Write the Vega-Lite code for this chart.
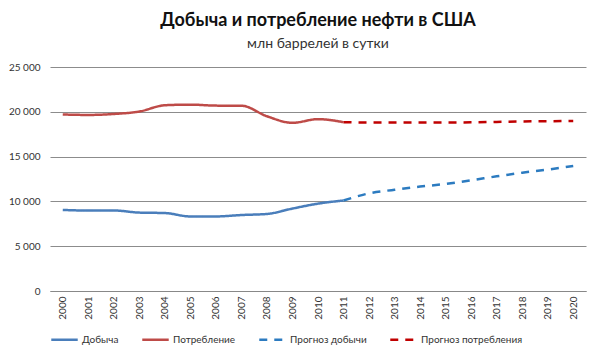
{
  "$schema": "https://vega.github.io/schema/vega-lite/v6.json",
  "width": 600,
  "height": 361,
  "autosize": {"type": "fit", "contains": "padding"},
  "padding": {"left": 8, "right": 14, "top": 12, "bottom": 16},
  "background": "white",
  "title": {
    "text": "Добыча и потребление нефти в США",
    "subtitle": "млн баррелей в сутки",
    "font": "Lato",
    "fontSize": 18,
    "fontWeight": "bold",
    "color": "#111111",
    "subtitleFont": "Lato",
    "subtitleFontSize": 14,
    "subtitleColor": "#333333",
    "subtitlePadding": 7,
    "anchor": "middle",
    "offset": 11
  },
  "data": {
    "values": [
      {"year": "2000", "value": 9050, "series": "Добыча"},
      {"year": "2001", "value": 8980, "series": "Добыча"},
      {"year": "2002", "value": 8990, "series": "Добыча"},
      {"year": "2003", "value": 8750, "series": "Добыча"},
      {"year": "2004", "value": 8700, "series": "Добыча"},
      {"year": "2005", "value": 8320, "series": "Добыча"},
      {"year": "2006", "value": 8320, "series": "Добыча"},
      {"year": "2007", "value": 8480, "series": "Добыча"},
      {"year": "2008", "value": 8600, "series": "Добыча"},
      {"year": "2009", "value": 9200, "series": "Добыча"},
      {"year": "2010", "value": 9750, "series": "Добыча"},
      {"year": "2011", "value": 10100, "series": "Добыча"},
      {"year": "2000", "value": 19700, "series": "Потребление"},
      {"year": "2001", "value": 19650, "series": "Потребление"},
      {"year": "2002", "value": 19760, "series": "Потребление"},
      {"year": "2003", "value": 20030, "series": "Потребление"},
      {"year": "2004", "value": 20730, "series": "Потребление"},
      {"year": "2005", "value": 20800, "series": "Потребление"},
      {"year": "2006", "value": 20690, "series": "Потребление"},
      {"year": "2007", "value": 20680, "series": "Потребление"},
      {"year": "2008", "value": 19500, "series": "Потребление"},
      {"year": "2009", "value": 18770, "series": "Потребление"},
      {"year": "2010", "value": 19180, "series": "Потребление"},
      {"year": "2011", "value": 18840, "series": "Потребление"},
      {"year": "2011", "value": 10100, "series": "Прогноз добычи"},
      {"year": "2012", "value": 10900, "series": "Прогноз добычи"},
      {"year": "2013", "value": 11300, "series": "Прогноз добычи"},
      {"year": "2014", "value": 11650, "series": "Прогноз добычи"},
      {"year": "2015", "value": 11950, "series": "Прогноз добычи"},
      {"year": "2016", "value": 12350, "series": "Прогноз добычи"},
      {"year": "2017", "value": 12800, "series": "Прогноз добычи"},
      {"year": "2018", "value": 13200, "series": "Прогноз добычи"},
      {"year": "2019", "value": 13550, "series": "Прогноз добычи"},
      {"year": "2020", "value": 13950, "series": "Прогноз добычи"},
      {"year": "2011", "value": 18840, "series": "Прогноз потребления"},
      {"year": "2012", "value": 18800, "series": "Прогноз потребления"},
      {"year": "2013", "value": 18800, "series": "Прогноз потребления"},
      {"year": "2014", "value": 18800, "series": "Прогноз потребления"},
      {"year": "2015", "value": 18800, "series": "Прогноз потребления"},
      {"year": "2016", "value": 18820, "series": "Прогноз потребления"},
      {"year": "2017", "value": 18870, "series": "Прогноз потребления"},
      {"year": "2018", "value": 18920, "series": "Прогноз потребления"},
      {"year": "2019", "value": 18950, "series": "Прогноз потребления"},
      {"year": "2020", "value": 18980, "series": "Прогноз потребления"}
    ]
  },
  "mark": {"type": "line", "interpolate": "monotone"},
  "encoding": {
    "x": {
      "field": "year",
      "type": "ordinal",
      "scale": {"paddingInner": 0, "paddingOuter": 0.5},
      "axis": {
        "title": null,
        "labelAngle": -90,
        "labelFont": "Lato",
        "labelFontSize": 10,
        "labelColor": "#333333",
        "labelPadding": 5,
        "ticks": false,
        "domainColor": "#888888",
        "domainWidth": 1
      }
    },
    "y": {
      "field": "value",
      "type": "quantitative",
      "scale": {"domain": [0, 25000], "nice": false},
      "axis": {
        "title": null,
        "values": [0, 5000, 10000, 15000, 20000, 25000],
        "labelExpr": "replace(format(datum.value, ','), ',', ' ')",
        "labelFont": "Lato",
        "labelFontSize": 10,
        "labelColor": "#333333",
        "labelPadding": 10,
        "ticks": false,
        "domain": false,
        "gridColor": "#8c8c8c",
        "gridWidth": 1
      }
    },
    "color": {
      "field": "series",
      "type": "nominal",
      "sort": ["Добыча", "Потребление", "Прогноз добычи", "Прогноз потребления"],
      "scale": {
        "domain": ["Добыча", "Потребление", "Прогноз добычи", "Прогноз потребления"],
        "range": ["#4a7ebb", "#be4b48", "#2c7bc0", "#c00000"]
      },
      "legend": {
        "title": null,
        "orient": "bottom",
        "direction": "horizontal",
        "symbolType": "stroke",
        "symbolSize": 700,
        "symbolStrokeWidth": 3,
        "labelFont": "Lato",
        "labelFontSize": 10,
        "labelColor": "#333333",
        "columnPadding": 18,
        "labelOffset": 3,
        "offset": 5
      }
    },
    "strokeDash": {
      "field": "series",
      "type": "nominal",
      "sort": ["Добыча", "Потребление", "Прогноз добычи", "Прогноз потребления"],
      "scale": {
        "domain": ["Добыча", "Потребление", "Прогноз добычи", "Прогноз потребления"],
        "range": [[1, 0], [1, 0], [8, 7], [8, 7]]
      }
    },
    "strokeWidth": {
      "field": "series",
      "type": "nominal",
      "scale": {
        "domain": ["Добыча", "Потребление", "Прогноз добычи", "Прогноз потребления"],
        "range": [2.5, 2.5, 3.5, 3.5]
      },
      "legend": null
    }
  },
  "config": {
    "view": {"stroke": null}
  }
}
